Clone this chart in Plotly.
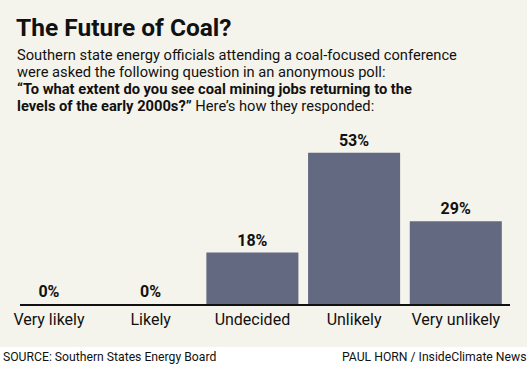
import plotly.graph_objects as go

categories = ["Very likely", "Likely", "Undecided", "Unlikely", "Very unlikely"]
values = [0, 0, 18, 53, 29]

title_text = "The Future of Coal?"
subtitle_lines = [
    "Southern state energy officials attending a coal-focused conference",
    "were asked the following question in an anonymous poll:",
    "<b>\u201cTo what extent do you see coal mining jobs returning to the</b>",
    "<b>levels of the early 2000s?\u201d</b> Here\u2019s how they responded:",
]
source_text = "SOURCE: Southern States Energy Board"
credit_text = "PAUL HORN / InsideClimate News"

W, H = 529, 369
L, R, T, B = 20, 19, 130, 65
PW, PH = W - L - R, H - T - B


def px(x):
    return (x - L) / PW


def py(y):
    return (H - B - y) / PH


FONT = "Roboto"
BAR_COLOR = "#626981"
CREAM = "#f5f4ec"
INK = "#111111"

fig = go.Figure()
fig.add_trace(go.Bar(
    x=categories,
    y=values,
    marker=dict(color=BAR_COLOR, line=dict(width=0)),
    width=0.905,
    text=[f"{v}%" for v in values],
    textposition="outside",
    textfont=dict(family=FONT, size=16, color=INK, weight="bold"),
    cliponaxis=False,
    hoverinfo="skip",
))


def note(text, x, y, size, xanchor="left", weight="normal"):
    return dict(text=text, xref="paper", yref="paper", x=px(x), y=py(y),
                xanchor=xanchor, yanchor="middle", showarrow=False,
                font=dict(family=FONT, size=size, color=INK, weight=weight))


annotations = [note(title_text, 14, 28, 24.5, weight="bold")]
line_centers = [55, 72, 89, 106]
for txt, yc in zip(subtitle_lines, line_centers):
    annotations.append(note(txt, 15, yc, 14.7))
annotations.append(note(source_text, 1, 357, 12.2))
annotations.append(note(credit_text, 528, 357, 12.2, xanchor="right"))

fig.update_layout(
    width=W, height=H,
    margin=dict(l=L, r=R, t=T, b=B, pad=0, autoexpand=False),
    paper_bgcolor="white",
    plot_bgcolor="rgba(0,0,0,0)",
    showlegend=False,
    annotations=annotations,
    shapes=[dict(type="rect", xref="paper", yref="paper", x0=px(0), x1=px(527),
                 y0=py(347), y1=py(0), fillcolor=CREAM, line=dict(width=0), layer="below")],
    xaxis=dict(
        type="category", range=[-0.285, 4.533], showline=True, linecolor=INK,
        linewidth=2, ticks="", showgrid=False, zeroline=False, fixedrange=True,
        tickfont=dict(family=FONT, size=16, color=INK),
        automargin=False,
    ),
    yaxis=dict(range=[0, 60.95], visible=False, fixedrange=True, automargin=False),
)

fig.write_html("out.html", config={"displayModeBar": False},
               post_script="document.body.style.margin='0';")
